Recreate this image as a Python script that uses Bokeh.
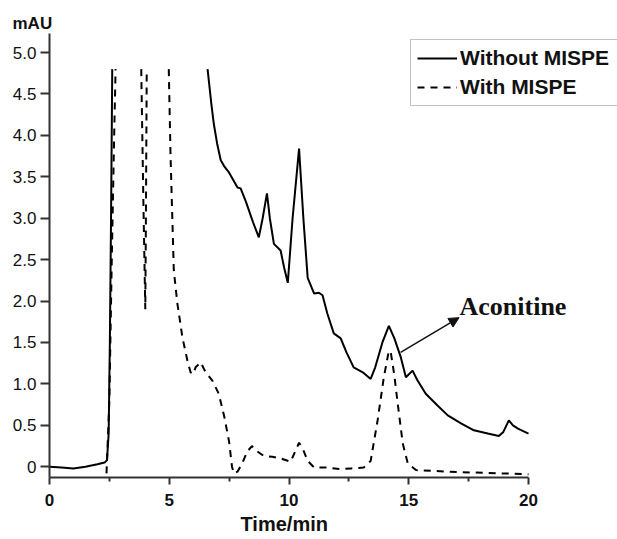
import numpy as np
from bokeh.plotting import figure
from bokeh.models import (Label, Arrow, NormalHead, Legend, LegendItem, FixedTicker,
                          PrintfTickFormatter, Range1d, Title)
from bokeh.embed import file_html
from bokeh.resources import INLINE

nan = np.nan

# Without MISPE (solid) - retention time (min) and absorbance (mAU); NaN = off-scale gap
without_t = [0.0, 0.5, 1.0, 1.5, 2.0, 2.3, 2.4, 2.47, 2.52, 2.57, 2.62, nan,
             6.6, 6.75, 6.86, 7.0, 7.15, 7.29, 7.5, 7.85, 7.98, 8.2, 8.5, 8.74, 8.9, 9.08,
             9.2, 9.37, 9.65, 9.8, 9.95, 10.15, 10.42, 10.6, 10.78, 11.05, 11.25, 11.4,
             11.6, 11.87, 12.16, 12.4, 12.7, 13.08, 13.41, 13.6, 13.9, 14.17, 14.4, 14.67,
             14.88, 15.16, 15.35, 15.71, 16.2, 16.63, 17.2, 17.72, 18.3, 18.76, 18.95,
             19.18, 19.35, 19.56, 20.0]
without_mau = [0.0, -0.01, -0.02, 0.0, 0.03, 0.05, 0.08, 0.4, 1.5, 3.0, 4.8, nan,
               4.8, 4.4, 4.14, 3.9, 3.70, 3.63, 3.55, 3.37, 3.36, 3.2, 2.95, 2.77, 3.0, 3.3,
               3.0, 2.69, 2.61, 2.4, 2.22, 3.0, 3.84, 3.0, 2.28, 2.09, 2.1, 2.07,
               1.85, 1.61, 1.55, 1.38, 1.2, 1.14, 1.06, 1.2, 1.5, 1.70, 1.55, 1.32,
               1.08, 1.16, 1.05, 0.88, 0.74, 0.62, 0.52, 0.44, 0.4, 0.37, 0.42,
               0.56, 0.5, 0.46, 0.40]

# With MISPE (dashed)
with_t = [2.38, 2.5, 2.6, 2.7, 2.76, nan,
          3.83, 3.92, 4.0, 4.03, 4.06, nan,
          4.98, 5.05, 5.19, 5.34, 5.55, 5.76, 5.89, 6.0, 6.1, 6.31, 6.5, 6.8, 7.07, 7.3,
          7.5, 7.62, 7.7, 7.85, 8.06, 8.25, 8.45, 8.6, 8.95, 9.3, 9.65, 10.07, 10.25,
          10.42, 10.6, 10.78, 11.05, 11.6, 12.16, 12.6, 13.12, 13.41, 13.7, 13.96, 14.17,
          14.25, 14.4, 14.54, 14.75, 14.96, 15.3, 16.0, 16.63, 17.72, 18.85, 20.0]
with_mau = [-0.08, 0.8, 2.5, 4.0, 4.8, nan,
            4.8, 3.2, 1.9, 3.2, 4.8, nan,
            4.8, 3.8, 2.37, 1.97, 1.56, 1.28, 1.14, 1.12, 1.2, 1.26, 1.15, 1.04, 0.88, 0.6,
            0.3, 0.0, -0.08, -0.06, 0.05, 0.18, 0.25, 0.2, 0.13, 0.12, 0.1, 0.06, 0.18,
            0.29, 0.2, 0.07, -0.01, -0.01, -0.03, -0.02, -0.01, 0.07, 0.56, 1.08, 1.40,
            1.38, 1.1, 0.76, 0.28, 0.04, -0.04, -0.05, -0.06, -0.07, -0.08, -0.09]

x_ticks = [0, 5, 10, 15, 20]
x_minor = [2.5, 7.5, 12.5, 17.5]
y_ticks = [0, 0.5, 1.0, 1.5, 2.0, 2.5, 3.0, 3.5, 4.0, 4.5, 5.0]

W, H = 617, 539
LEFT, TOP, BOTTOM = 49, 33, 62
X_AXIS_PX = 479  # pixels spanned by 0..20 min
x_end = 20 * (W - LEFT) / X_AXIS_PX

p = figure(width=W, height=H, output_backend="svg", toolbar_location=None,
           x_range=Range1d(0, x_end), y_range=Range1d(-0.13, 5.23),
           min_border_left=LEFT, min_border_right=0, min_border_top=TOP,
           min_border_bottom=BOTTOM)
p.outline_line_color = None
p.xgrid.grid_line_color = None
p.ygrid.grid_line_color = None
p.background_fill_color = "white"
p.border_fill_color = "white"

r1 = p.line(without_t, without_mau, line_color="black", line_width=2)
r2 = p.line(with_t, with_mau, line_color="black", line_width=2, line_dash="7 6")

for ax in (p.xaxis[0], p.yaxis[0]):
    ax.axis_line_color = "#333333"
    ax.axis_line_width = 2
    ax.major_tick_line_color = "#333333"
    ax.major_tick_line_width = 2
    ax.minor_tick_line_color = "#333333"
    ax.minor_tick_line_width = 2
    ax.major_label_text_color = "#111111"
    ax.major_label_text_font = "Liberation Sans"

xa = p.xaxis[0]
xa.bounds = (0, 20)
xa.ticker = FixedTicker(ticks=x_ticks, minor_ticks=x_minor)
xa.major_tick_out = 7
xa.major_tick_in = 0
xa.minor_tick_out = 4
xa.minor_tick_in = 0
xa.major_label_text_font_size = "17px"
xa.major_label_text_font_style = "bold"
xa.major_label_standoff = 9

ya = p.yaxis[0]
ya.ticker = FixedTicker(ticks=y_ticks)
ya.formatter = PrintfTickFormatter(format="%.1f")
ya.major_label_overrides = {0: "0"}
ya.major_tick_out = 9
ya.major_tick_in = 0
ya.minor_tick_line_color = None
ya.major_label_text_font_size = "17px"
ya.major_label_standoff = 4

p.add_layout(Title(text="mAU", align="left", offset=-37, standoff=1,
                   text_font="Liberation Sans", text_font_size="17px",
                   text_font_style="bold", text_color="#111111"), "above")
p.add_layout(Title(text="Time/min", align="left", offset=191, standoff=4,
                   text_font="Liberation Sans", text_font_size="20px",
                   text_font_style="bold", text_color="#111111"), "below")

p.add_layout(Label(x=17.12, y=1.94, text="Aconitine", text_align="left", text_baseline="middle",
                   text_font="Liberation Serif", text_font_size="26px", text_font_style="bold",
                   text_color="#111111"))
p.add_layout(Arrow(x_start=14.66, y_start=1.38, x_end=17.1, y_end=1.80, line_width=1.5,
                   line_color="#111111",
                   end=NormalHead(size=10, fill_color="#111111", line_color="#111111")))

legend = Legend(items=[LegendItem(label="Without MISPE", renderers=[r1]),
                       LegendItem(label="With MISPE", renderers=[r2])],
                location=(361, 371), glyph_width=40, glyph_height=24, label_height=24,
                label_width=165, label_standoff=3, padding=6, spacing=5, margin=0,
                border_line_color="#888888", border_line_width=1,
                label_text_font="Liberation Sans", label_text_font_size="21px",
                label_text_font_style="bold", label_text_color="#111111",
                background_fill_color="white", background_fill_alpha=1.0)
p.add_layout(legend)

open("out.html", "w").write(file_html(p, INLINE))
